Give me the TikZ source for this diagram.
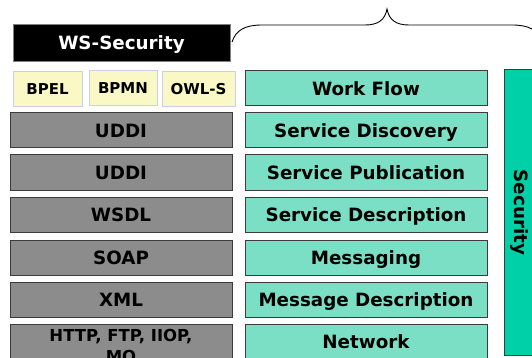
\documentclass[tikz,border=0pt]{standalone}
\usepackage{fontspec}
\setmainfont{DejaVu Sans}
\definecolor{grayfill}{RGB}{140,140,140}
\definecolor{tealfill}{RGB}{122,223,196}
\definecolor{secfill}{RGB}{0,208,168}
\definecolor{yfill}{RGB}{250,248,196}
\definecolor{ybord}{RGB}{204,204,240}
\definecolor{boxline}{RGB}{60,60,60}
\begin{document}
\begin{tikzpicture}[x=1pt,y=-1pt,
  lbl/.style={font=\bfseries\fontsize{18.3}{20}\selectfont, text height=13.3pt, text depth=0pt, inner sep=0pt},
  graybox/.style={lbl, draw=boxline, line width=1pt, fill=grayfill, minimum width=222pt, minimum height=35pt},
  tealbox/.style={lbl, draw=boxline, line width=1pt, fill=tealfill, minimum width=242pt, minimum height=35pt},
  ybox/.style={font=\bfseries\fontsize{15}{17}\selectfont, text height=11pt, text depth=0pt, inner sep=0pt,
     draw=ybord, line width=1pt, fill=yfill, minimum height=35pt},
]
\useasboundingbox (0,0) rectangle (532,358);
\clip (0,0) rectangle (532,358);

% WS-Security header
\node[lbl, fill=black, draw=gray, line width=0.8pt, text=white, minimum width=217pt, minimum height=37pt] (ws) at (121.5,42.5) {WS-Security};

% brace
\draw[line width=0.9pt] (232,42) .. controls (236,30) and (245,25) .. (262,25) -- (365,25)
  .. controls (378,25) and (385,20) .. (387,9) .. controls (389,20) and (396,25) .. (409,25)
  -- (512,25) .. controls (529,25) and (538,30) .. (542,42);

% yellow boxes
\node[ybox, minimum width=69pt] (bpel) at (47.5,89.5) {BPEL};
\node[ybox, minimum width=68pt] (bpmn) at (123,88.5) {BPMN};
\node[ybox, minimum width=73pt] (owls) at (198.5,89.5) {OWL-S};

% gray boxes
\node[graybox] (uddia) at (121,130.5) {UDDI};
\node[graybox] (uddib) at (121,172.5) {UDDI};
\node[graybox] (wsdl) at (121,214.5) {WSDL};
\node[graybox] (soap) at (121,257.5) {SOAP};
\node[graybox] (xml) at (121,299.5) {XML};
\node[graybox, minimum height=40pt] (net) at (121,344) {};
\node[font=\bfseries\fontsize{16.5}{21}\selectfont, align=center, anchor=north, inner sep=0pt] (nettxt) at (121,329.5) {HTTP, FTP, IIOP,\\MQ\hspace{22pt}};

% teal boxes
\node[tealbox] (wf) at (366,88.5) {Work Flow};
\node[tealbox] (sd) at (366,130.5) {Service Discovery};
\node[tealbox] (sp) at (366,172.5) {Service Publication};
\node[tealbox] (sdesc) at (366,214.5) {Service Description};
\node[tealbox] (msg) at (366,257.5) {Messaging};
\node[tealbox] (md) at (366,299.5) {Message Description};
\node[tealbox, minimum height=40pt] (nw) at (366,344) {};
\node[lbl] (nwtxt) at (366,341.5) {Network};

% security column
\node[draw=boxline, line width=1pt, fill=secfill, minimum width=34pt, minimum height=285pt, inner sep=0pt] (sec) at (521,212.5) {};
\node[lbl, rotate=-90] (sectxt) at (521,212.5) {Security};
\end{tikzpicture}
\end{document}
